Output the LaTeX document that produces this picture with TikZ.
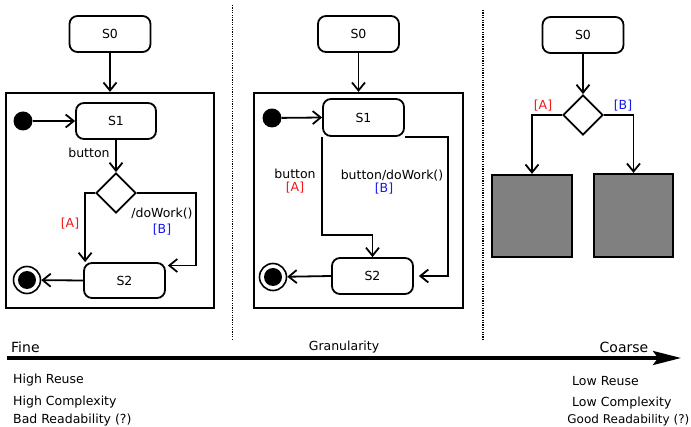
\documentclass[tikz,border=0pt]{standalone}
\usepackage{fontspec}
\setmainfont{DejaVu Sans}
\usetikzlibrary{arrows.meta,shapes.geometric,calc}
\definecolor{guardred}{HTML}{F21818}
\definecolor{guardblue}{HTML}{1818F0}
\definecolor{blockgray}{HTML}{808080}
\tikzset{
  state/.style={draw, line width=1.8pt, rounded corners=8pt, inner sep=0pt,
    minimum width=81pt, minimum height=36pt, font=\fontsize{12.5}{14}\selectfont},
  frame/.style={draw, line width=2.2pt, inner sep=0pt},
  choice/.style={draw, diamond, line width=1.8pt, inner sep=0pt,
    minimum width=40pt, minimum height=40pt},
  initdot/.style={circle, fill=black, inner sep=0pt, minimum size=19pt},
  finaldot/.style={circle, draw, line width=1.6pt, inner sep=0pt, minimum size=27pt,
    path picture={\fill[black] (path picture bounding box.center) circle (9pt);}},
  block/.style={draw, line width=2.2pt, fill=blockgray, inner sep=0pt},
  arr/.style={line width=1.8pt, -{Straight Barb[length=8pt,width=13pt,line width=1.8pt]}},
  lbl/.style={inner sep=0pt, font=\fontsize{12.5}{14}\selectfont},
  note/.style={inner sep=0pt, anchor=west, font=\fontsize{12.5}{14}\selectfont},
  sep/.style={line width=1.7pt, dash pattern=on 1.2pt off 1.2pt},
}
\begin{document}
\begin{tikzpicture}[x=1pt, y=-1pt]
\useasboundingbox (0,0) rectangle (691,427);

% ---------- fine-grained machine ----------
\node[state] (s0a) at (110,34) {S0};
\node[frame, minimum width=208pt, minimum height=215pt] (boxa) at (110,200.5) {};
\draw[arr] (s0a.south) -- (boxa.north);
\node[initdot] (inia) at (23,121) {};
\node[state, minimum width=80pt] (s1a) at (116,121) {S1};
\draw[arr] (inia) -- (s1a.west);
\node[choice] (diaa) at (116,193) {};
\draw[arr] (s1a.south) -- (diaa.north);
\node[lbl] (la) at (89,153) {button};
\node[state, minimum height=35pt] (s2a) at (124.5,280.5) {S2};
\draw[arr] (diaa.west) -| ([xshift=2pt]s2a.north west);
\draw[arr] (diaa.east) -| ($(s2a.east)+(30,-15)$) -- ([yshift=15pt,xshift=2pt]s2a.east);
\node[lbl, text=guardred] (ga) at (70,224) {[A]};
\node[lbl] (wa) at (162,214) {/doWork()};
\node[lbl, text=guardblue] (gb) at (162,230) {[B]};
\node[finaldot] (fina) at (27,280) {};
\draw[arr] (s2a.west) -- (fina);

% ---------- medium-grained machine ----------
\node[state] (s0b) at (358.5,34) {S0};
\node[frame, minimum width=209pt, minimum height=215pt] (boxb) at (358.5,200.5) {};
\draw[arr] (s0b.south) -- (boxb.north);
\node[initdot] (inib) at (272,118) {};
\node[state, minimum height=37pt] (s1b) at (363.5,117.5) {S1};
\draw[arr] (inib) -- (s1b.west);
\node[state] (s2b) at (372.5,276) {S2};
\draw[arr] (s1b.south west) -- ++(0,98) -| (s2b.north);
\draw[arr] (s1b.south east) -- ++(43,0) |- ([xshift=5pt]s2b.east);
\node[lbl] (lb) at (295,174) {button};
\node[lbl, text=guardred] (gc) at (295,188) {[A]};
\node[lbl] (wb) at (392,176) {button/doWork()};
\node[lbl, text=guardblue] (gd) at (384,189) {[B]};
\node[finaldot] (finb) at (273,277) {};
\draw[arr] (s2b.west) -- (finb);

% ---------- coarse-grained machine ----------
\node[state] (s0c) at (583,35) {S0};
\node[choice] (diac) at (583,115) {};
\draw[arr] (s0c.south) -- (diac.north);
\node[block, minimum width=80pt, minimum height=82pt] (bla) at (532,216) {};
\node[block, minimum width=79pt, minimum height=83pt] (blb) at (633.5,215.5) {};
\draw[arr] (diac.west) -| (bla.north);
\draw[arr] (diac.east) -| (blb.north);
\node[lbl, text=guardred] (ge) at (543,106) {[A]};
\node[lbl, text=guardblue] (gf) at (623,106) {[B]};

% ---------- separators ----------
\coordinate (sa1) at (232.5,5);
\coordinate (sa2) at (232.5,340);
\coordinate (sb1) at (483,10);
\coordinate (sb2) at (483,340);
\draw[sep] (sa1) -- (sa2);
\draw[sep] (sb1) -- (sb2);

% ---------- granularity axis ----------
\coordinate (ax0) at (7,358);
\coordinate (ax1) at (681,358);
\draw[line width=3.3pt, -{Stealth[length=28pt,width=14pt,inset=5pt]}] (ax0) -- (ax1);
\node[inner sep=0pt, anchor=west, font=\fontsize{14}{16}\selectfont] (fine) at (11,347) {Fine};
\node[lbl] (gran) at (344,347) {Granularity};
\node[inner sep=0pt, font=\fontsize{14}{16}\selectfont] (coarse) at (624,347) {Coarse};
\node[note] (hr) at (13,380) {High Reuse};
\node[note] (hc) at (13,402) {High Complexity};
\node[note] (br) at (13,420) {Bad Readability (?)};
\node[note] (lr) at (572,381) {Low Reuse};
\node[note] (lc) at (572,403) {Low Complexity};
\node[note, anchor=east, font=\fontsize{12}{14}\selectfont] (gr) at (689.5,420) {Good Readability (?)};
\end{tikzpicture}
\end{document}
